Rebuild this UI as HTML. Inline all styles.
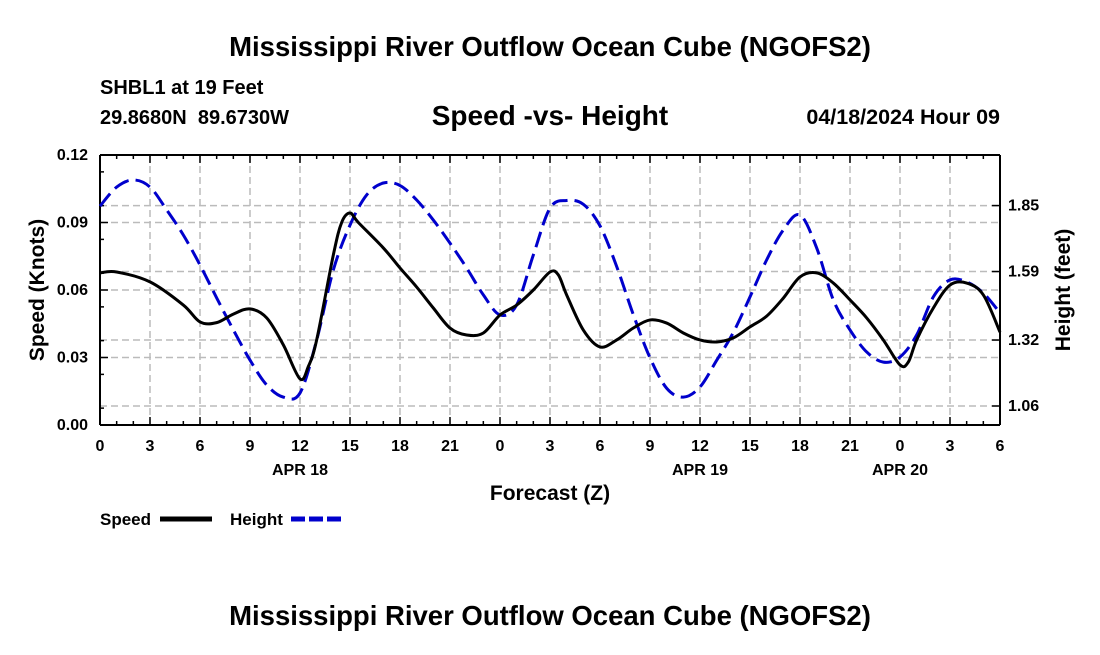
<!DOCTYPE html>
<html><head><meta charset="utf-8"><style>
body{margin:0;background:#fff;font-family:"Liberation Sans",sans-serif;}
svg text{font-family:"Liberation Sans",sans-serif;font-weight:bold;}
</style></head><body>
<svg id="chart" width="1100" height="650" viewBox="0 0 1100 650">
<text x="550" y="56" text-anchor="middle" font-size="27.5">Mississippi River Outflow Ocean Cube (NGOFS2)</text>
<text x="100" y="94" font-size="20">SHBL1 at 19 Feet</text>
<text x="100" y="124" font-size="20" xml:space="preserve">29.8680N  89.6730W</text>
<text x="550" y="125" text-anchor="middle" font-size="28">Speed -vs- Height</text>
<text x="1000" y="124" text-anchor="end" font-size="21.5">04/18/2024 Hour 09</text>
<g id="grid"></g><g id="axes"></g><g id="series"></g>
<text x="550" y="500" text-anchor="middle" font-size="21">Forecast (Z)</text>
<text transform="translate(44,290) rotate(-90)" text-anchor="middle" font-size="21">Speed (Knots)</text>
<text transform="translate(1070,290) rotate(-90)" text-anchor="middle" font-size="21">Height (feet)</text>
<g><text x="100" y="525" font-size="17">Speed</text><line x1="160" y1="519" x2="212" y2="519" stroke="#000" stroke-width="5"/></g>
<g><text x="230" y="525" font-size="17">Height</text><line x1="291" y1="519" x2="343" y2="519" stroke="#0000cc" stroke-width="5" stroke-dasharray="14,4"/></g>
<text x="550" y="625" text-anchor="middle" font-size="27.5">Mississippi River Outflow Ocean Cube (NGOFS2)</text>
</svg>
<script>
const xTickLabels=["0","3","6","9","12","15","18","21","0","3","6","9","12","15","18","21","0","3","6"];
const dateLabels=["APR 18","APR 19","APR 20"];
const dateHours=[12,36,48];
const speedTicks=[0,0.03,0.06,0.09,0.12];
const heightTicks=[1.06,1.32,1.59,1.85];
const speedHours=[0,1,3,5,6,7,8,9,10,11,12,12.5,13,14,14.5,15,15.5,17,18,19,20,21,22,23,24,25,26,27,27.5,28,29,30,31,32,33,34,35,36,37,38,39,40,41,42,43,44,45,46,47,48,48.5,49,50,51,52,53,54];
const speedVals=[0.0676,0.068,0.0636,0.0533,0.0458,0.0455,0.0493,0.0516,0.0476,0.0356,0.0205,0.026,0.0378,0.0756,0.090,0.0942,0.090,0.0787,0.0698,0.0613,0.052,0.0431,0.040,0.0409,0.0489,0.0533,0.06,0.068,0.0667,0.0578,0.0422,0.0347,0.0378,0.0431,0.0467,0.0453,0.0409,0.0378,0.0369,0.0387,0.0436,0.0484,0.0564,0.0658,0.0676,0.0631,0.0556,0.0476,0.0378,0.0267,0.028,0.0378,0.052,0.0622,0.0631,0.0578,0.0413];
const heightHours=[0,1,2,3,4,5,6,7,8,9,10,11,12,13,14,15,16,17,18,19,20,21,22,23,24,25,26,27,28,29,30,31,32,33,34,35,36,37,38,39,40,41,42,43,44,45,46,47,48,49,50,51,52,53,54];
const heightVals=[1.848,1.923,1.951,1.923,1.833,1.734,1.616,1.486,1.360,1.241,1.143,1.095,1.111,1.320,1.596,1.773,1.892,1.939,1.929,1.872,1.793,1.702,1.604,1.498,1.419,1.458,1.655,1.840,1.870,1.855,1.770,1.610,1.420,1.250,1.130,1.095,1.135,1.240,1.350,1.490,1.636,1.754,1.813,1.683,1.478,1.360,1.273,1.233,1.253,1.340,1.490,1.557,1.549,1.505,1.427];
const X0=100,X1=1000,Y0=425,Y1=155,HMAX=54;
const xS=h=>X0+(X1-X0)*h/HMAX;
const yS=v=>Y0-(Y0-Y1)*v/0.12;
const yH=f=>406-(f-1.06)*253.7;
const NS="http://www.w3.org/2000/svg";
function mk(tag,attrs,parent){const e=document.createElementNS(NS,tag);for(const k in attrs)e.setAttribute(k,attrs[k]);parent.appendChild(e);return e;}
const grid=document.getElementById('grid'),axes=document.getElementById('axes'),series=document.getElementById('series');
const gs={stroke:"#bbb","stroke-width":1.5,"stroke-dasharray":"7,4"};
xTickLabels.forEach((l,i)=>{const x=xS(i*3);
 if(i>0&&i<xTickLabels.length-1){const g=mk('line',Object.assign({x1:x,x2:x,y1:Y1,y2:Y0},gs),grid);}
 const t=mk('text',{x:x,y:451,"text-anchor":"middle","font-size":16},axes);t.textContent=l;
 
 mk('line',{x1:x,x2:x,y1:Y0,y2:Y0-8,stroke:"#000","stroke-width":1.5},axes);
 mk('line',{x1:x,x2:x,y1:Y1,y2:Y1+8,stroke:"#000","stroke-width":1.5},axes);});
for(let h=1;h<HMAX;h++){if(h%3){const x=xS(h);mk('line',{x1:x,x2:x,y1:Y1,y2:Y1+4,stroke:"#000","stroke-width":1.5},axes);mk('line',{x1:x,x2:x,y1:Y0,y2:Y0-4,stroke:"#000","stroke-width":1.5},axes);}}
dateLabels.forEach((l,i)=>{const t=mk('text',{x:xS(dateHours[i]),y:475,"text-anchor":"middle","font-size":16},axes);t.textContent=l;
 });
speedTicks.forEach(v=>{const y=yS(v);
 if(v>0&&v<0.12){const g=mk('line',Object.assign({x1:X0,x2:X1,y1:y,y2:y},gs),grid);}
 mk('line',{x1:X0,x2:X0+8,y1:y,y2:y,stroke:"#000","stroke-width":1.5},axes);
 const t=mk('text',{x:X0-12,y:y+5,"text-anchor":"end","font-size":16},axes);t.textContent=v.toFixed(2);
 });
for(let v=0.0075;v<0.12;v+=0.015){const y=yS(v);mk('line',{x1:X0,x2:X0+4,y1:y,y2:y,stroke:"#000","stroke-width":1.5},axes);}
heightTicks.forEach(f=>{const y=yH(f);
 const g=mk('line',Object.assign({x1:X0,x2:X1,y1:y,y2:y},gs),grid);
 mk('line',{x1:X1,x2:X1-8,y1:y,y2:y,stroke:"#000","stroke-width":1.5},axes);
 const t=mk('text',{x:X1+8,y:y+5,"font-size":16},axes);t.textContent=f.toFixed(2);
 });
[[X0,Y1,X0,Y0],[X1,Y1,X1,Y0],[X0,Y0,X1,Y0],[X0,Y1,X1,Y1]].forEach(a=>mk('line',{x1:a[0],y1:a[1],x2:a[2],y2:a[3],stroke:"#000","stroke-width":2},axes));
function smooth(pts){let d=`M${pts[0][0]},${pts[0][1]}`;
 for(let i=0;i<pts.length-1;i++){const p0=pts[i-1]||pts[i],p1=pts[i],p2=pts[i+1],p3=pts[i+2]||p2;
  d+=` C${p1[0]+(p2[0]-p0[0])/6},${p1[1]+(p2[1]-p0[1])/6} ${p2[0]-(p3[0]-p1[0])/6},${p2[1]-(p3[1]-p1[1])/6} ${p2[0]},${p2[1]}`;}return d;}
const hp=mk('path',{d:smooth(heightHours.map((h,i)=>[xS(h),yH(heightVals[i])])),fill:"none",stroke:"#0000cc","stroke-width":3,"stroke-dasharray":"16,7"},series);

const sp=mk('path',{d:smooth(speedHours.map((h,i)=>[xS(h),yS(speedVals[i])])),fill:"none",stroke:"#000","stroke-width":3},series);

</script>
</body></html>
